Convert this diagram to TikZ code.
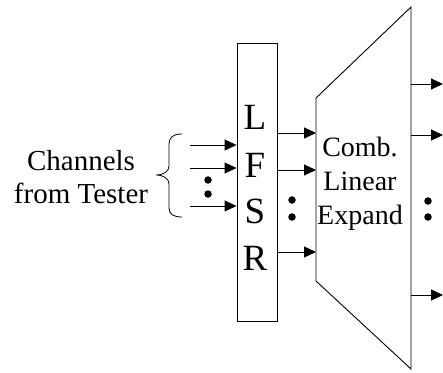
\documentclass[tikz,border=0pt]{standalone}
\usepackage{fontspec}
\setmainfont{Liberation Serif}
\usetikzlibrary{arrows.meta}
\begin{document}
\begin{tikzpicture}[x=1pt,y=-1pt,
  line width=0.9pt,
  flow/.style={-{Triangle[length=12pt,width=11pt]}},
  dotmark/.style={fill=black,circle,inner sep=0pt,minimum size=7.5pt},
  bigletter/.style={font=\fontsize{37}{47}\selectfont,inner sep=0pt,align=center},
  blocktext/.style={font=\fontsize{28}{34}\selectfont,inner sep=0pt,align=center},
  sidetext/.style={font=\fontsize{29}{33.5}\selectfont,inner sep=0pt,align=center}]
\useasboundingbox (0,0) rectangle (443,372);

% LFSR register block
\node[draw,minimum width=40pt,minimum height=278pt,inner sep=0pt] (lfsr) at (257,182) {};
\node[bigletter,anchor=base] (lL) at (255,129) {L};
\node[bigletter,anchor=base] (lF) at (255,177) {F};
\node[bigletter,anchor=base] (lS) at (255,223) {S};
\node[bigletter,anchor=base] (lR) at (255,270) {R};

% combinational linear expander (trapezoid)
\coordinate (tl) at (316,98);
\coordinate (bl) at (316,281);
\coordinate (tr) at (411,7);
\coordinate (br) at (411,369);
\draw (tl) -- (tr) -- (br) -- (bl) -- cycle;
\node[blocktext,anchor=base] (comb) at (360,156) {Comb.};
\node[blocktext,anchor=base] (lin) at (360,190) {Linear};
\node[blocktext,anchor=base] (exp) at (360,224) {Expand};

% tester channels label and brace
\node[sidetext] (chan) at (81,177) {Channels\\from Tester};
\draw[line width=0.8pt] (182,134) .. controls (173,134) and (169,137) .. (169,145) -- (169,166)
  .. controls (169,171) and (164,175) .. (156,175)
  .. controls (164,175) and (169,179) .. (169,184) -- (169,208)
  .. controls (169,214) and (173,217) .. (182,217);

% inputs into the LFSR
\coordinate (i1) at (190,145);
\coordinate (i2) at (190,168);
\coordinate (i3) at (190,206);
\draw[flow] (i1) -- (lfsr.west |- i1);
\draw[flow] (i2) -- (lfsr.west |- i2);
\draw[flow] (i3) -- (lfsr.west |- i3);
\node[dotmark] (d1) at (208,180) {};
\node[dotmark] (d2) at (208,194) {};

% LFSR outputs into the expander
\coordinate (m1) at (316,133);
\coordinate (m2) at (316,170);
\coordinate (m3) at (316,252);
\draw[flow] (lfsr.east |- m1) -- (m1);
\draw[flow] (lfsr.east |- m2) -- (m2);
\draw[flow] (lfsr.east |- m3) -- (m3);
\node[dotmark] (d3) at (292,200) {};
\node[dotmark] (d4) at (292,217) {};

% expander outputs
\coordinate (o1) at (443,84);
\coordinate (o2) at (443,135);
\coordinate (o3) at (443,295);
\draw[flow] (tr |- o1) -- (o1);
\draw[flow] (tr |- o2) -- (o2);
\draw[flow] (tr |- o3) -- (o3);
\node[dotmark] (d5) at (428,201) {};
\node[dotmark] (d6) at (428,217) {};
\end{tikzpicture}
\end{document}
